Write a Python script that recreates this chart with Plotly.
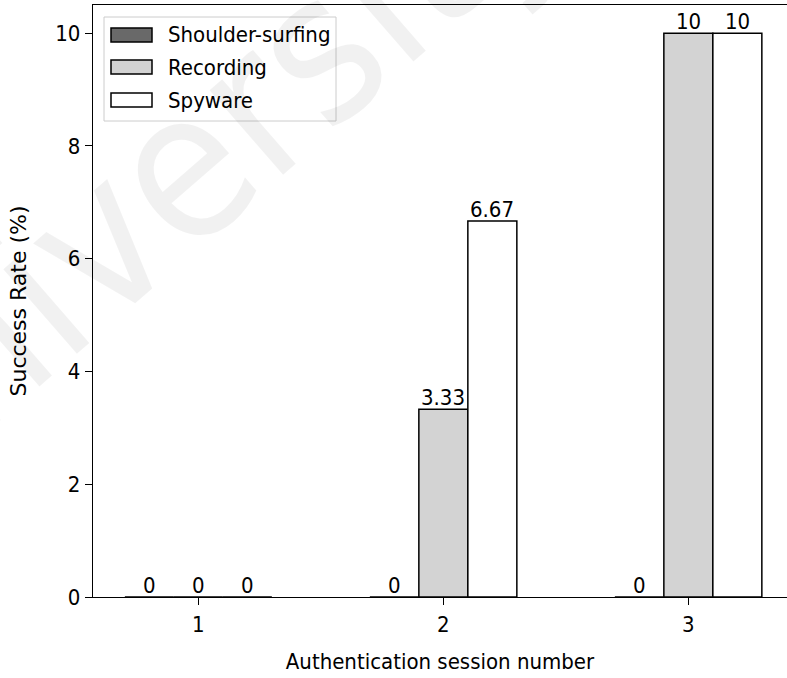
import plotly.graph_objects as go

# ---- data -------------------------------------------------------------
sessions = [1, 2, 3]
session_labels = ["1", "2", "3"]
attack_names = ["Shoulder-surfing", "Recording", "Spyware"]
shoulder_surfing = [0, 0, 0]
recording = [0, 3.33, 10]
spyware = [0, 6.67, 10]
y_ticks = [0, 2, 4, 6, 8, 10]

# ---- styling ------------------------------------------------------------
W, H = 787, 678
L, R, T, B = 93, 0, 5, 81
FONT = "DejaVu Sans Condensed, DejaVu Sans, sans-serif"
FONT_V = "DejaVu Sans, sans-serif"
FS = 22
fills = ["#696969", "#d3d3d3", "#ffffff"]
EDGE = 1.5
BAR_W = 0.2
offsets = [-0.3, -0.1, 0.1]

plot_w = W - L - R
plot_h = H - T - B


def px_x(px):
    return (px - L) / plot_w


def px_y(py):
    return (H - B - py) / plot_h


fig = go.Figure()
annotations = []
for name, vals, fill, off in zip(attack_names, [shoulder_surfing, recording, spyware],
                                 fills, offsets):
    fig.add_trace(go.Bar(
        x=sessions, y=vals, name=name, width=BAR_W, offset=off,
        marker=dict(color=fill, line=dict(color="black", width=EDGE)),
        showlegend=False,
    ))
    # value label above each bar
    for s, v in zip(sessions, vals):
        annotations.append(dict(
            text=f"{v:.3g}", x=s + off + BAR_W / 2, y=v, xref="x", yref="y",
            xanchor="center", yanchor="bottom", yshift=-3, showarrow=False,
            font=dict(family=FONT, size=FS, color="black"),
        ))

# faint diagonal watermark
annotations.insert(0, dict(
    text="University", x=px_x(178), y=px_y(172), xref="paper", yref="paper",
    xanchor="center", yanchor="middle", textangle=-41, showarrow=False,
    font=dict(family="DejaVu Sans Condensed, DejaVu Sans, sans-serif", size=205,
              color="rgba(0,0,0,0.055)"),
))

# legend box with wide patches
shapes = [dict(
    type="rect", xref="paper", yref="paper",
    x0=px_x(104), x1=px_x(336), y0=px_y(121), y1=px_y(17),
    line=dict(color="#cccccc", width=1), fillcolor="rgba(255,255,255,0.8)",
    layer="above",
)]
row_y = [35, 67, 100]
for name, fill, cy in zip(attack_names, fills, row_y):
    shapes.append(dict(
        type="rect", xref="paper", yref="paper",
        x0=px_x(111), x1=px_x(152), y0=px_y(cy + 7), y1=px_y(cy - 7),
        line=dict(color="black", width=EDGE), fillcolor=fill, layer="above",
    ))
    annotations.append(dict(
        text=name, x=px_x(166), y=px_y(cy), xref="paper", yref="paper",
        xanchor="left", yanchor="middle", showarrow=False,
        font=dict(family=FONT, size=FS, color="black"),
    ))

axis_common = dict(
    showline=True, linecolor="black", linewidth=1.3,
    ticks="outside", ticklen=7, tickwidth=1.3, tickcolor="black",
    showgrid=False, zeroline=False,
    tickfont=dict(family=FONT, size=FS, color="black"),
)

fig.update_layout(
    width=W, height=H,
    margin=dict(l=L, r=R, t=T, b=B, autoexpand=False),
    paper_bgcolor="white", plot_bgcolor="white",
    barmode="overlay",
    font=dict(family=FONT, size=FS, color="black"),
    xaxis=dict(
        range=[0.57, 0.57 + plot_w / 245.0],
        tickvals=sessions, ticktext=session_labels, mirror=True,
        title=dict(text="Authentication session number", standoff=18,
                   font=dict(family=FONT, size=FS, color="black")),
        **axis_common,
    ),
    yaxis=dict(
        range=[0, 10.5], tickvals=y_ticks, mirror=False,
        title=dict(text="Success Rate (%)", standoff=22,
                   font=dict(family=FONT_V, size=FS, color="black")),
        **axis_common,
    ),
    shapes=shapes,
    annotations=annotations,
    showlegend=False,
)

fig.write_html("out.html")
